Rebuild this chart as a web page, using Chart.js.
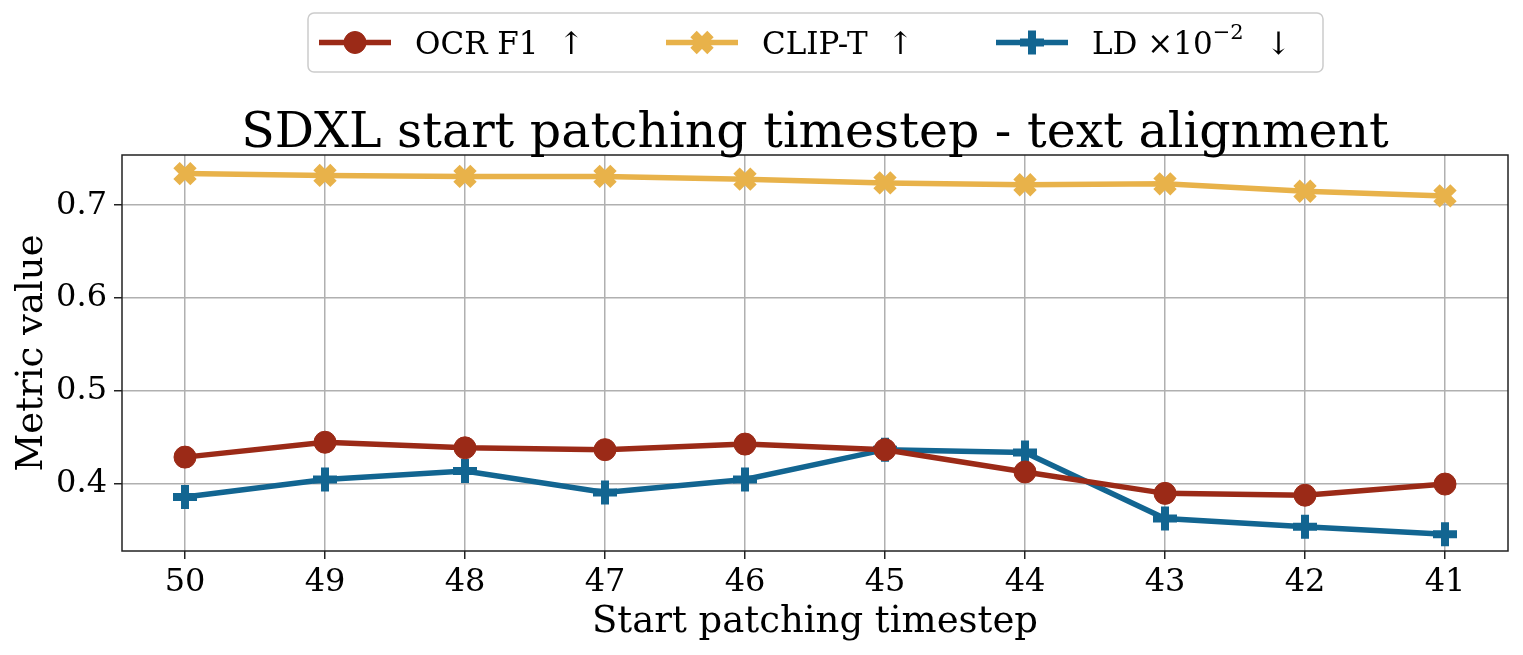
<!DOCTYPE html>
<html>
<head>
<meta charset="utf-8">
<script src="https://cdn.jsdelivr.net/npm/chart.js@4/dist/chart.umd.min.js"></script>
<style>
  html, body { margin: 0; padding: 0; background: #fff; }
  #wrap { width: 1523px; height: 655px; }
</style>
</head>
<body>
<div id="wrap"><canvas id="chart"></canvas></div>
<script>
// timesteps shown on the x axis (reversed, 50 -> 41)
const timesteps = [50, 49, 48, 47, 46, 45, 44, 43, 42, 41];
const ocrF1 = [0.429, 0.445, 0.439, 0.437, 0.443, 0.437, 0.413, 0.390, 0.388, 0.400];
const clipT = [0.734, 0.732, 0.731, 0.731, 0.728, 0.724, 0.722, 0.723, 0.715, 0.710];
const ldScaled = [0.386, 0.405, 0.414, 0.391, 0.405, 0.437, 0.434, 0.363, 0.354, 0.346];
const yTicks = [0.4, 0.5, 0.6, 0.7];

const chartTitle = 'SDXL start patching timestep - text alignment';
const serif = "'DejaVu Serif', serif";
const colors = {
    ocr: '#9b2a17',
    clip: '#e8b24a',
    ld: '#126591'
};

const toPoints = vals => vals.map((v, i) => ({ x: timesteps[i], y: v }));

// boxed legend at the top, line sample + marker like matplotlib,
// plus the title centred over the axes (not the whole canvas)
const topLegend = {
    id: 'topLegend',
    afterDraw(chart) {
        const ctx = chart.ctx;
        const a = chart.chartArea;
        ctx.save();

        ctx.fillStyle = '#000';
        ctx.font = '49px ' + serif;
        ctx.textAlign = 'center';
        ctx.textBaseline = 'alphabetic';
        ctx.fillText(chartTitle, (a.left + a.right) / 2, 147);
        ctx.textAlign = 'left';

        const box = { x: 308, y: 13, w: 1015, h: 59 };
        ctx.strokeStyle = '#cccccc';
        ctx.lineWidth = 1.5;
        ctx.beginPath();
        ctx.roundRect(box.x, box.y, box.w, box.h, 6);
        ctx.stroke();

        const cy = box.y + box.h / 2;
        const items = [
            { ds: chart.data.datasets[0], x0: 319, parts: [['OCR F1  \u2191', 0]] },
            { ds: chart.data.datasets[1], x0: 666, parts: [['CLIP-T  \u2191', 0]] },
            { ds: chart.data.datasets[2], x0: 996, parts: [['LD \u00d710', 0], ['\u22122', 1], ['  \u2193', 0]] }
        ];
        items.forEach(it => {
            const ds = it.ds;
            ctx.strokeStyle = ds.borderColor;
            ctx.fillStyle = ds.borderColor;
            ctx.lineWidth = ds.borderWidth;
            ctx.beginPath();
            ctx.moveTo(it.x0, cy);
            ctx.lineTo(it.x0 + 72, cy);
            ctx.stroke();
            ctx.lineWidth = ds.pointBorderWidth;
            Chart.helpers.drawPoint(ctx, {
                pointStyle: ds.pointStyle,
                radius: ds.pointRadius,
                borderWidth: ds.pointBorderWidth
            }, it.x0 + 36, cy);

            ctx.fillStyle = '#000';
            let x = it.x0 + 96;
            it.parts.forEach(([txt, sup]) => {
                ctx.font = (sup ? '21px ' : '31px ') + serif;
                ctx.fillText(txt, x, sup ? cy - 4 : cy + 11);
                x += ctx.measureText(txt).width + (sup ? 2 : 0);
            });
        });
        ctx.restore();
    }
};

// black frame around the plot area
const frame = {
    id: 'frame',
    afterDatasetsDraw(chart) {
        const a = chart.chartArea;
        const ctx = chart.ctx;
        ctx.save();
        ctx.strokeStyle = '#222';
        ctx.lineWidth = 1.5;
        ctx.strokeRect(a.left, a.top, a.right - a.left, a.bottom - a.top);
        ctx.restore();
    }
};

function makeSet(label, vals, color, style, radius, bw) {
    return {
        label: label,
        data: toPoints(vals),
        borderColor: color,
        backgroundColor: color,
        borderWidth: 5.5,
        pointStyle: style,
        pointRadius: radius,
        pointBorderWidth: bw,
        pointBackgroundColor: color,
        pointBorderColor: color,
        tension: 0
    };
}

new Chart(document.getElementById('chart'), {
    type: 'line',
    data: {
        datasets: [
            makeSet('OCR F1', ocrF1, colors.ocr, 'circle', 11, 1),
            makeSet('CLIP-T', clipT, colors.clip, 'crossRot', 12, 9),
            makeSet('LD', ldScaled, colors.ld, 'cross', 12, 8)
        ]
    },
    options: {
        responsive: true,
        maintainAspectRatio: false,
        animation: false,
        layout: { autoPadding: false, padding: { top: 155, left: 0, right: 15, bottom: 0 } },
        plugins: {
            legend: { display: false },
            tooltip: { enabled: false },
            title: { display: false }
        },
        scales: {
            x: {
                type: 'linear',
                reverse: true,
                min: 40.55,
                max: 50.45,
                afterBuildTicks: s => { s.ticks = timesteps.map(v => ({ value: v })); },
                afterFit: s => { s.height = 104; s.paddingLeft = 0; s.paddingRight = 0; },
                grid: { color: '#b0b0b0', lineWidth: 1.5, tickColor: '#222', tickLength: 8 },
                border: { display: false },
                ticks: {
                    color: '#000',
                    font: { family: serif, size: 32 },
                    padding: 4,
                    callback: v => String(v)
                },
                title: {
                    display: true,
                    text: 'Start patching timestep',
                    color: '#000',
                    font: { family: serif, size: 37 },
                    padding: { top: 0, bottom: 10 }
                }
            },
            y: {
                min: 0.328,
                max: 0.754,
                afterBuildTicks: s => { s.ticks = yTicks.map(v => ({ value: v })); },
                afterFit: s => { s.width = 122; s.paddingTop = 0; s.paddingBottom = 0; },
                grid: { color: '#b0b0b0', lineWidth: 1.5, tickColor: '#222', tickLength: 8 },
                border: { display: false },
                ticks: {
                    color: '#000',
                    font: { family: serif, size: 32 },
                    padding: 7,
                    callback: v => v.toFixed(1)
                },
                title: {
                    display: true,
                    text: 'Metric value',
                    color: '#000',
                    font: { family: serif, size: 37 },
                    padding: { top: 10, bottom: 0 }
                }
            }
        }
    },
    plugins: [topLegend, frame]
});
</script>
</body>
</html>
